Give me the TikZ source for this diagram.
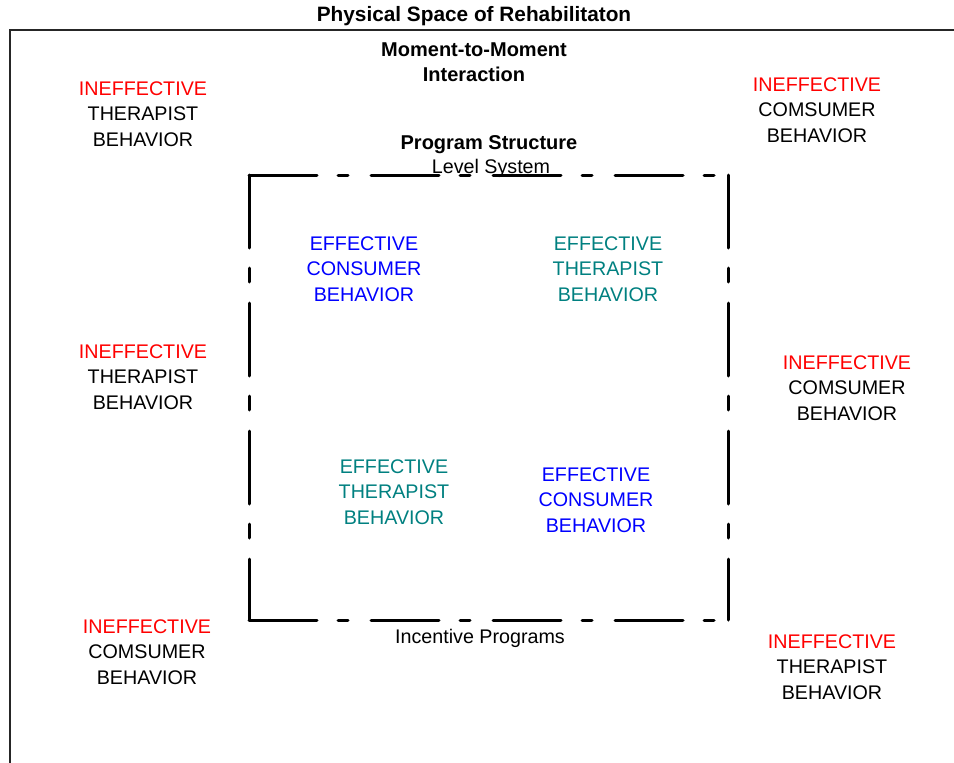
\documentclass[tikz,border=0pt]{standalone}
\usepackage{fontspec}
\setmainfont{Liberation Sans}
\definecolor{inred}{RGB}{255,0,0}
\definecolor{efblue}{RGB}{0,0,255}
\definecolor{efteal}{RGB}{0,128,128}
\begin{document}
\begin{tikzpicture}[x=1pt,y=-1pt,
  lbl/.style={inner sep=0pt,align=center,font=\fontsize{19.7}{25.4}\selectfont},
  blbl/.style={inner sep=0pt,align=center,font=\fontsize{20}{25}\selectfont\bfseries},
  frame/.style={line width=1.8pt,black!85},
  hdash/.style={line width=3pt,line cap=round,dash pattern=on 68pt off 21pt on 10pt off 23pt},
  vdash/.style={line width=3pt,line cap=round,dash pattern=on 73pt off 20pt on 14pt off 21pt}]
\useasboundingbox (0,0) rectangle (954,763);
% outer frame
\coordinate (ftr) at (960,30);
\coordinate (ftl) at (10,30);
\coordinate (fbl) at (10,770);
\draw[frame] (ftr) -- (ftl) -- (fbl);
% titles
\node[blbl,anchor=base,font=\fontsize{20.8}{25}\selectfont\bfseries] (title) at (474,21) {Physical Space of Rehabilitaton};
\node[blbl] (moment) at (474,62.5) {Moment-to-Moment\\Interaction};
\node[blbl,anchor=base] (prog) at (489,149) {Program Structure};
\node[lbl,anchor=base] (level) at (491,173) {Level System};
\node[lbl,anchor=base] (incent) at (480,643) {Incentive Programs};
% inner dashed box
\coordinate (btl) at (249,175);
\coordinate (btr) at (728,175);
\coordinate (bbl) at (249,620);
\coordinate (bbr) at (728,620);
\draw[hdash] (btl) -- (btr);
\draw[hdash] (bbl) -- (bbr);
\draw[vdash] (btl) -- (bbl);
\draw[vdash] (btr) -- (bbr);
% outer behaviors
\node[lbl] (tl) at (143,114) {\textcolor{inred}{INEFFECTIVE}\\THERAPIST\\BEHAVIOR};
\node[lbl] (tr) at (817,110) {\textcolor{inred}{INEFFECTIVE}\\COMSUMER\\BEHAVIOR};
\node[lbl] (ml) at (143,377) {\textcolor{inred}{INEFFECTIVE}\\THERAPIST\\BEHAVIOR};
\node[lbl] (mr) at (847,388) {\textcolor{inred}{INEFFECTIVE}\\COMSUMER\\BEHAVIOR};
\node[lbl] (bl) at (147,652) {\textcolor{inred}{INEFFECTIVE}\\COMSUMER\\BEHAVIOR};
\node[lbl] (br) at (832,667) {\textcolor{inred}{INEFFECTIVE}\\THERAPIST\\BEHAVIOR};
% inner behaviors
\node[lbl,text=efblue] (ec1) at (364,269) {EFFECTIVE\\CONSUMER\\BEHAVIOR};
\node[lbl,text=efteal] (et1) at (608,269) {EFFECTIVE\\THERAPIST\\BEHAVIOR};
\node[lbl,text=efteal] (et2) at (394,492) {EFFECTIVE\\THERAPIST\\BEHAVIOR};
\node[lbl,text=efblue] (ec2) at (596,500) {EFFECTIVE\\CONSUMER\\BEHAVIOR};
\end{tikzpicture}
\end{document}
